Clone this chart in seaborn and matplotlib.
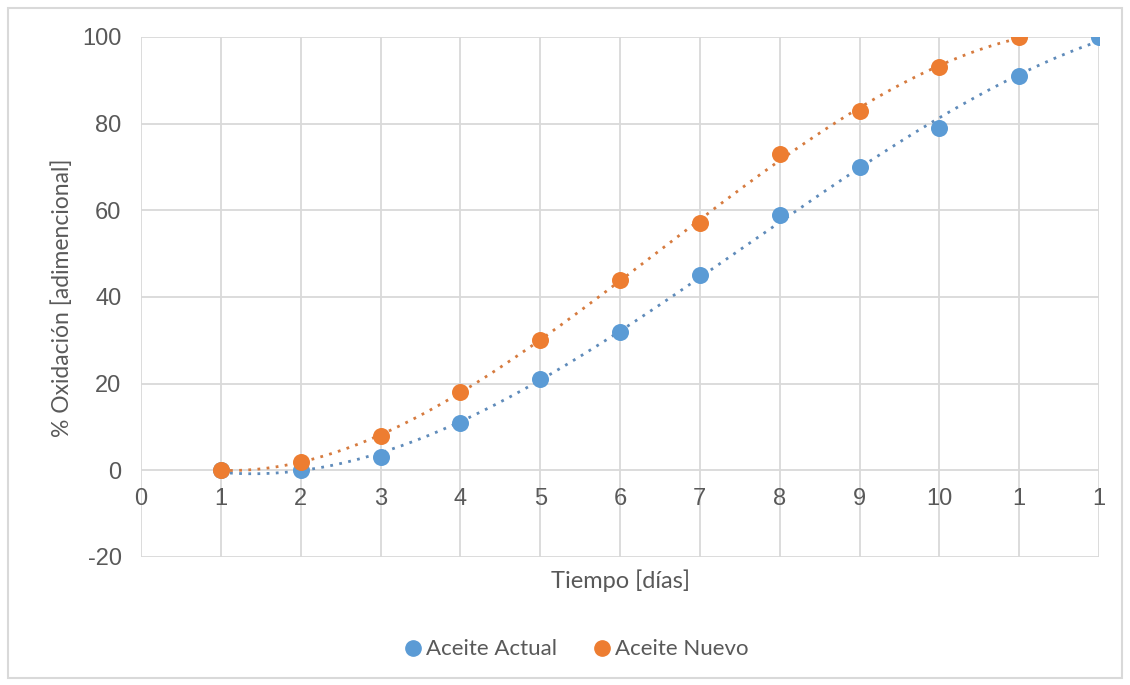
import numpy as np
import pandas as pd
import matplotlib.pyplot as plt
import seaborn as sns
from matplotlib.patches import Rectangle
from matplotlib.lines import Line2D

# data
dias_actual = [1, 2, 3, 4, 5, 6, 7, 8, 9, 10, 11, 12]
oxid_actual = [0, 0, 3, 11, 21, 32, 45, 59, 70, 79, 91, 100]
dias_nuevo = [1, 2, 3, 4, 5, 6, 7, 8, 9, 10, 11]
oxid_nuevo = [0, 2, 8, 18, 30, 44, 57, 73, 83, 93, 100]
x_ticks = [0, 1, 2, 3, 4, 5, 6, 7, 8, 9, 10, 11, 12]
x_ticklabels = ['0', '1', '2', '3', '4', '5', '6', '7', '8', '9', '10', '1', '1']
y_ticks = [-20, 0, 20, 40, 60, 80, 100]

actual = pd.DataFrame({'dia': dias_actual, 'ox': oxid_actual})
nuevo = pd.DataFrame({'dia': dias_nuevo, 'ox': oxid_nuevo})

azul = '#5B9BD5'
naranja = '#ED7D31'
gris = '#595959'

sns.set_theme(style='white')
plt.rcParams['font.family'] = ['Liberation Sans', 'DejaVu Sans']
plt.rcParams['axes.unicode_minus'] = False

fig = plt.figure(figsize=(11.3, 6.85), dpi=100)
ax = fig.add_axes([0.1248, 0.1869, 0.8478, 0.7591])

# polynomial trend lines (like Excel)
for df, col in [(actual, '#5F8BBA'), (nuevo, '#D67B3F')]:
    coef = np.polyfit(df['dia'], df['ox'], 3)
    xs = np.linspace(df['dia'].min(), df['dia'].max(), 200)
    trend = pd.DataFrame({'dia': xs, 'ox': np.polyval(coef, xs)})
    sns.lineplot(data=trend, x='dia', y='ox', ax=ax, color=col,
                 linestyle=(0, (1, 2.3)), linewidth=2.0, zorder=2)

sns.scatterplot(data=actual, x='dia', y='ox', ax=ax, color=azul, s=150,
                edgecolor=azul, linewidth=0, zorder=3)
sns.scatterplot(data=nuevo, x='dia', y='ox', ax=ax, color=naranja, s=150,
                edgecolor=naranja, linewidth=0, zorder=3)

ax.set_xlim(0, 12)
ax.set_ylim(-20, 100)
ax.set_xticks(x_ticks)
ax.set_xticklabels(x_ticklabels)
ax.set_yticks(y_ticks)
ax.grid(True, color='#D9D9D9', linewidth=1.3)
ax.set_axisbelow(True)
for s in ['top', 'right', 'left']:
    ax.spines[s].set_visible(False)
ax.spines['bottom'].set_position(('data', 0))
ax.spines['bottom'].set_visible(False)
ax.tick_params(axis='both', length=0, labelsize=17, labelcolor=gris)
ax.tick_params(axis='x', pad=13)
ax.tick_params(axis='y', pad=14)

ax.set_xlabel('')
ax.set_ylabel('')
fig.text(0.5487, 0.152, 'Tiempo [días]', ha='center', va='center',
         fontsize=17, color=gris, family=['Lato', 'DejaVu Sans'])
fig.text(0.055, 0.565, '% Oxidación [adimencional]', ha='center', va='center',
         rotation=90, fontsize=16.5, color=gris, family=['Lato', 'DejaVu Sans'])

handles = [Line2D([], [], marker='o', linestyle='', color=azul, markersize=11),
           Line2D([], [], marker='o', linestyle='', color=naranja, markersize=11)]
fig.legend(handles, ['Aceite Actual', 'Aceite Nuevo'], loc='center',
           bbox_to_anchor=(0.51, 0.052), ncol=2, frameon=False,
           handlelength=0.8, handletextpad=0.2, columnspacing=1.6,
           prop={'family': 'Lato', 'size': 16}, labelcolor=gris)

# outer chart border
fig.patches.append(Rectangle((0.007, 0.01), 0.986, 0.978, transform=fig.transFigure,
                             fill=False, edgecolor='#D9D9D9', linewidth=1.5))

fig.savefig('out.png', dpi=100)
